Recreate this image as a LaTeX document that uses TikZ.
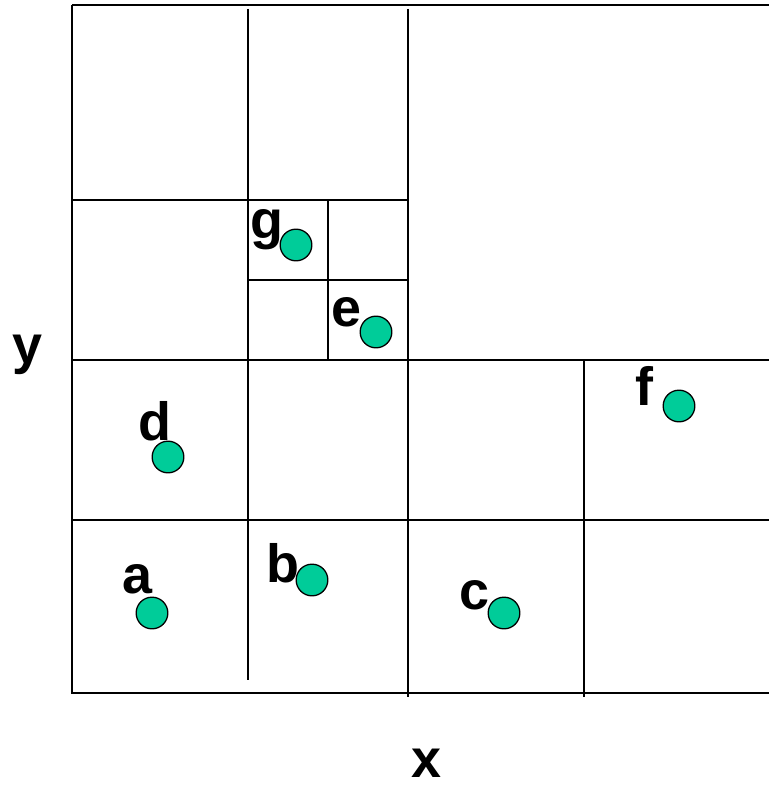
\documentclass[tikz,border=0pt]{standalone}
\usepackage{fontspec}
\setmainfont{Liberation Sans}
\usetikzlibrary{positioning}

\begin{document}
\begin{tikzpicture}[
  x=0.03cm,
  y=-0.03cm,
  grid/.style={line width=1.6pt, black},
  pt/.style={circle, draw, line width=1.1pt, fill=ptgreen, minimum size=0.95cm, inner sep=0pt},
  lab/.style={font=\fontsize{46}{50}\selectfont\bfseries, inner sep=0pt}
]
  \definecolor{ptgreen}{RGB}{0,204,153}
  \useasboundingbox (0,0) rectangle (769,789);

  % outer lines
  \draw[grid] (72,5) -- (769,5);
  \draw[grid] (72,5) -- (72,693) -- (769,693);
  % cells
  \draw[grid] (248,9) -- (248,680);
  \draw[grid] (408,9) -- (408,697);
  \draw[grid] (584,360) -- (584,697);
  \draw[grid] (72,200) -- (408,200);
  \draw[grid] (248,280) -- (408,280);
  \draw[grid] (328,200) -- (328,360);
  \draw[grid] (72,360) -- (769,360);
  \draw[grid] (72,520) -- (769,520);

  % points
  \node[pt] (g) at (296,245) {};
  \node[pt] (e) at (376,332) {};
  \node[pt] (d) at (168,457) {};
  \node[pt] (f) at (679,406) {};
  \node[pt] (a) at (152,613) {};
  \node[pt] (b) at (312,580) {};
  \node[pt] (c) at (504,613) {};

  \node[lab] (gl) at (267,230) {g};
  \node[lab] (el) at (346,312) {e};
  \node[lab] (dl) at (155,421) {d};
  \node[lab] (fl) at (644,386) {f};
  \node[lab] (al) at (137,579) {a};
  \node[lab] (bl) at (283,563) {b};
  \node[lab] (cl) at (474,595) {c};

  \node[lab] (ylab) at (27,355) {y};
  \node[lab] (xlab) at (426,763) {x};
\end{tikzpicture}
\end{document}
